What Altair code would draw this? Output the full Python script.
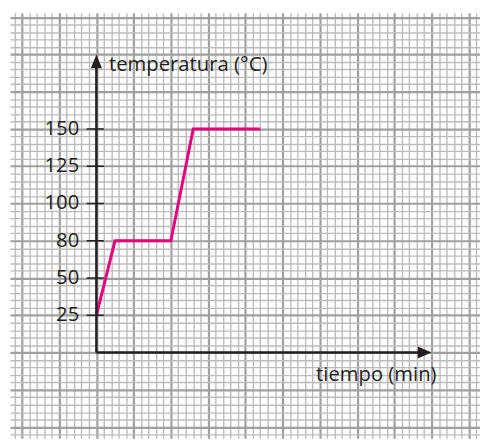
import altair as alt
import pandas as pd

# ---- data ----
time_min = [0, 2.5, 10, 13, 22]
temperature = [25, 80, 80, 150, 150]
y_tick_labels = [25, 50, 80, 100, 125, 150]
x_title = "tiempo (min)"
y_title = "temperatura (°C)"

STEP = 5  # grid cells between two labelled temperatures


def ypos(v):
    return (y_tick_labels.index(v) + 1) * STEP


line_df = pd.DataFrame({"x": time_min, "y": [ypos(t) for t in temperature]})
tick_df = pd.DataFrame({
    "label": [str(v) for v in y_tick_labels],
    "y": [ypos(v) for v in y_tick_labels],
})
tick_df["x"] = -1.3
tick_df["x2"] = 1.0
tick_df["lx"] = -2.3

axes_df = pd.DataFrame({"x": [0, 0], "y": [0, 0], "x2": [0, 44], "y2": [39, 0]})
arrow_df = pd.DataFrame({
    "x": [0, 45],
    "y": [40, 0],
    "shape": ["M0,0L0.4,1L-0.4,1Z", "M0,0L-1,-0.43L-1,0.43Z"],
})
title_df = pd.DataFrame({"x": [1.7, 29.5], "y": [38.6, -3.0], "t": [y_title, x_title]})

xs = alt.Scale(domain=[-11.6, 51.5], nice=False, zero=False)
ys = alt.Scale(domain=[-11.5, 45.6], nice=False, zero=False)

major = "datum.value % 5 === 0"
grid_color = {"condition": {"test": major, "value": "#9f9fa3"}, "value": "#bbbbbe"}
grid_width = {"condition": {"test": major, "value": 2.2}, "value": 1.4}

x_axis = alt.Axis(values=list(range(-11, 52)), grid=True, gridColor=grid_color,
                  gridWidth=grid_width, domain=False, ticks=False, labels=False, title="")
y_axis = alt.Axis(values=list(range(-11, 46)), grid=True, gridColor=grid_color,
                  gridWidth=grid_width, domain=False, ticks=False, labels=False, title="")

X = alt.X("x:Q", scale=xs, axis=x_axis)
Y = alt.Y("y:Q", scale=ys, axis=y_axis)
INK = "#231f20"
FONT = "Open Sans"
FS = 20.5

line = alt.Chart(line_df).mark_line(color="#e6007e", strokeWidth=3).encode(x=X, y=Y)

axes = alt.Chart(axes_df).mark_rule(color=INK, strokeWidth=2.5).encode(
    x=X, y=Y, x2="x2:Q", y2="y2:Q")

arrows = alt.Chart(arrow_df).mark_point(filled=True, opacity=1, color=INK, size=784).encode(
    x=X, y=Y, shape=alt.Shape("shape:N", scale=None))

ticks = alt.Chart(tick_df).mark_rule(color=INK, strokeWidth=1.5).encode(
    x=X, x2="x2:Q", y=Y)

labels = alt.Chart(tick_df).mark_text(
    align="right", baseline="middle", fontSize=FS, font=FONT, color=INK
).encode(x=alt.X("lx:Q", scale=xs, axis=x_axis), y=Y, text="label:N")

titles = alt.Chart(title_df).mark_text(
    align="left", baseline="middle", fontSize=FS, font=FONT, color=INK
).encode(x=X, y=Y, text="t:N")

chart = (
    alt.layer(line, axes, ticks, arrows, labels, titles)
    .properties(width=476, height=431, padding={"left": 2, "top": 2, "right": 0, "bottom": 0},
                background="white")
    .configure_view(strokeWidth=0)
)

chart.save("out.html", embed_options={"renderer": "svg", "actions": False})
